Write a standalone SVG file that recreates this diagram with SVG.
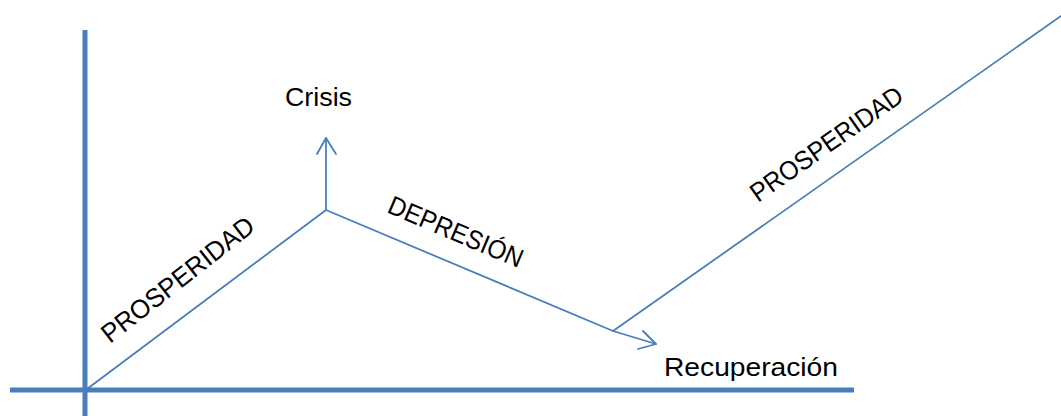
<svg xmlns="http://www.w3.org/2000/svg" width="1061" height="416" viewBox="0 0 1061 416">
<defs>
<style>
.axis{stroke:#4a7ebb;stroke-width:5;fill:none}
.ln{stroke:#4a7ebb;stroke-width:1.8;fill:none;stroke-linecap:round;stroke-linejoin:round}
.t{font-family:"Liberation Sans",Arial,sans-serif;font-size:26.5px;fill:#000}
</style>
</defs>
<rect width="1061" height="416" fill="#fff"/>
<g id="axes">
<line class="axis" x1="85" y1="30" x2="85" y2="416"/>
<line class="axis" x1="10" y1="390" x2="854" y2="390"/>
</g>
<g id="connectors">
<polyline class="ln" points="87,389 326,210 613,331"/>
<line class="ln" x1="326" y1="210" x2="326" y2="138"/>
<polyline class="ln" points="317,154 326,138 336,154"/>
<line class="ln" x1="613" y1="331" x2="656" y2="344"/>
<polyline class="ln" points="643,331 656,344 638,349"/>
<line class="ln" x1="613" y1="331" x2="1061" y2="16"/>
</g>
<g id="crisis"><text class="t" x="285" y="106" textLength="67" lengthAdjust="spacingAndGlyphs">Crisis</text></g>
<g id="recuperacion"><text class="t" x="664" y="376" textLength="174" lengthAdjust="spacingAndGlyphs">Recuperación</text></g>
<g id="prosperidad1"><text class="t" transform="translate(110,344) rotate(-38)" textLength="186" lengthAdjust="spacingAndGlyphs">PROSPERIDAD</text></g>
<g id="depresion"><text class="t" transform="translate(386,212) rotate(23)" textLength="144" lengthAdjust="spacingAndGlyphs">DEPRESIÓN</text></g>
<g id="prosperidad2"><text class="t" transform="translate(758,203) rotate(-35)" textLength="180" lengthAdjust="spacingAndGlyphs">PROSPERIDAD</text></g>
</svg>
